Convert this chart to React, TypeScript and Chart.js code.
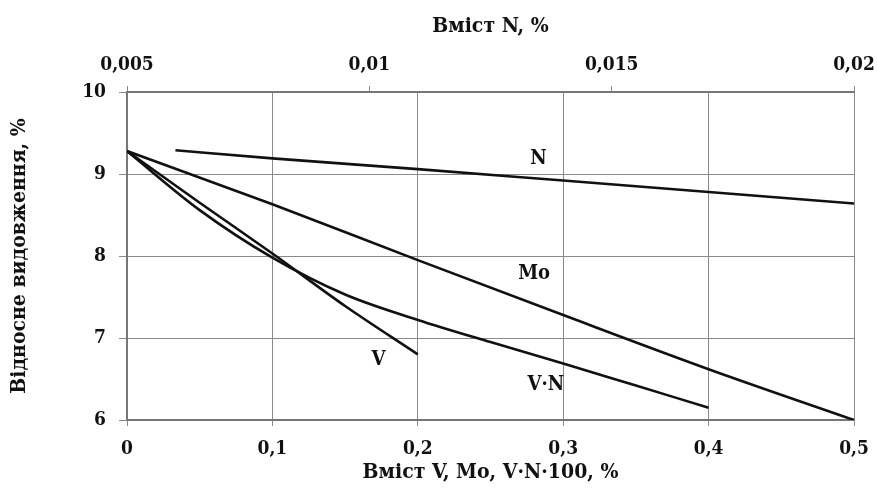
import React, { useEffect, useRef } from "react";
import { Chart, registerables } from "chart.js";

Chart.register(...registerables);

const xTicks = [0, 0.1, 0.2, 0.3, 0.4, 0.5];
const nTicks = [0.005, 0.01, 0.015, 0.02];
const yTicks = [6, 7, 8, 9, 10];

const nX = [0.006, 0.008, 0.011, 0.014, 0.017, 0.02];
const nY = [9.29, 9.19, 9.06, 8.92, 8.78, 8.64];

const moX = [0, 0.1, 0.2, 0.3, 0.4, 0.5];
const moY = [9.28, 8.63, 7.95, 7.28, 6.62, 6.0];

const vX = [0, 0.05, 0.1, 0.15, 0.2];
const vY = [9.28, 8.65, 8.03, 7.39, 6.8];

const vnX = [0, 0.05, 0.1, 0.15, 0.2, 0.25, 0.3, 0.35, 0.4];
const vnY = [9.28, 8.56, 7.98, 7.53, 7.22, 6.95, 6.69, 6.42, 6.15];

const labelText = ["N", "Mo", "V", "V·N"];
const labelX = [0.283, 0.28, 0.173, 0.288];
const labelY = [9.19, 7.78, 6.74, 6.43];

const fmt = (v: number) => String(v).replace(".", ",");
const pts = (xs: number[], ys: number[]) => xs.map((x, i) => ({ x, y: ys[i] }));

const FONT = "'DejaVu Serif Condensed', 'DejaVu Serif', serif";

export default function App() {
  const ref = useRef<HTMLCanvasElement>(null);
  useEffect(() => {
    document.body.style.margin = "0";
    const ctx = ref.current!;
    const labelsPlugin = {
      id: "lineLabels",
      afterDatasetsDraw(chart: any) {
        const c = chart.ctx;
        c.save();
        c.fillStyle = "#111";
        c.font = `bold 20px ${FONT}`;
        c.textAlign = "center";
        c.textBaseline = "middle";
        labelText.forEach((t, i) => {
          const px = chart.scales.x.getPixelForValue(labelX[i]);
          const py = chart.scales.y.getPixelForValue(labelY[i]);
          c.fillText(t, px, py);
        });
        c.restore();
      },
    };
    const lineDs = (data: any, xAxisID: string) => ({
      data,
      xAxisID,
      yAxisID: "y",
      showLine: true,
      borderColor: "#111",
      backgroundColor: "#111",
      borderWidth: 2.6,
      pointRadius: 0,
      cubicInterpolationMode: "monotone" as const,
    });
    const gridColor = "#8a8a8a";
    const tickFont = { family: FONT, size: 19, weight: "bold" as const };
    const titleFont = { family: FONT, size: 21, weight: "bold" as const };
    const chart = new Chart(ctx, {
      type: "scatter",
      data: {
        datasets: [
          lineDs(pts(nX, nY), "x2"),
          lineDs(pts(moX, moY), "x"),
          lineDs(pts(vX, vY), "x"),
          lineDs(pts(vnX, vnY), "x"),
        ],
      },
      options: {
        animation: false,
        responsive: false,
        events: [],
        layout: { padding: { left: 0, right: 24, top: 0, bottom: 0 } },
        plugins: { legend: { display: false }, tooltip: { enabled: false } },
        scales: {
          x: {
            type: "linear",
            position: "bottom",
            min: 0,
            max: 0.5,
            afterBuildTicks: (s: any) => {
              s.ticks = xTicks.map((v) => ({ value: v }));
            },
            afterFit: (s: any) => {
              s.height = 74;
              s.paddingLeft = 0;
              s.paddingRight = 0;
            },
            ticks: {
              callback: (v: any) => fmt(v),
              color: "#111",
              font: tickFont,
              padding: 12,
              maxRotation: 0,
            },
            grid: { color: gridColor, lineWidth: 1, tickLength: 6, drawTicks: true },
            border: { color: "#777", width: 2 },
            title: {
              display: true,
              text: "Вміст V, Mo, V·N·100, %",
              color: "#111",
              font: titleFont,
              padding: { top: 4, bottom: 9 },
            },
          },
          x2: {
            type: "linear",
            position: "top",
            min: 0.005,
            max: 0.02,
            afterBuildTicks: (s: any) => {
              s.ticks = nTicks.map((v) => ({ value: v }));
            },
            afterFit: (s: any) => {
              s.height = 92;
              s.paddingLeft = 0;
              s.paddingRight = 0;
            },
            ticks: {
              callback: (v: any) => fmt(v),
              color: "#111",
              font: tickFont,
              padding: 10,
              maxRotation: 0,
            },
            grid: { drawOnChartArea: false, color: gridColor, tickLength: 6 },
            border: { color: "#777", width: 2 },
            title: {
              display: true,
              text: "Вміст N, %",
              color: "#111",
              font: titleFont,
              padding: { top: 14, bottom: 8 },
            },
          },
          y: {
            type: "linear",
            min: 6,
            max: 10,
            afterBuildTicks: (s: any) => {
              s.ticks = yTicks.map((v) => ({ value: v }));
            },
            afterFit: (s: any) => {
              s.width = 127;
              s.paddingTop = 0;
              s.paddingBottom = 0;
            },
            ticks: {
              callback: (v: any) => fmt(v),
              color: "#111",
              font: tickFont,
              padding: 13,
            },
            grid: { color: gridColor, lineWidth: 1, tickLength: 8 },
            border: { color: "#777", width: 2 },
            title: {
              display: true,
              text: "Відносне видовження, %",
              color: "#111",
              font: titleFont,
              padding: { top: 7, bottom: 0 },
            },
          },
        },
      },
      plugins: [labelsPlugin],
    } as any);
    return () => chart.destroy();
  }, []);
  return (
    <div style={{ position: "fixed", left: 0, top: 0, width: 878, height: 494, background: "#fff" }}>
      <canvas ref={ref} width={878} height={494} style={{ width: 878, height: 494, display: "block" }} />
    </div>
  );
}
